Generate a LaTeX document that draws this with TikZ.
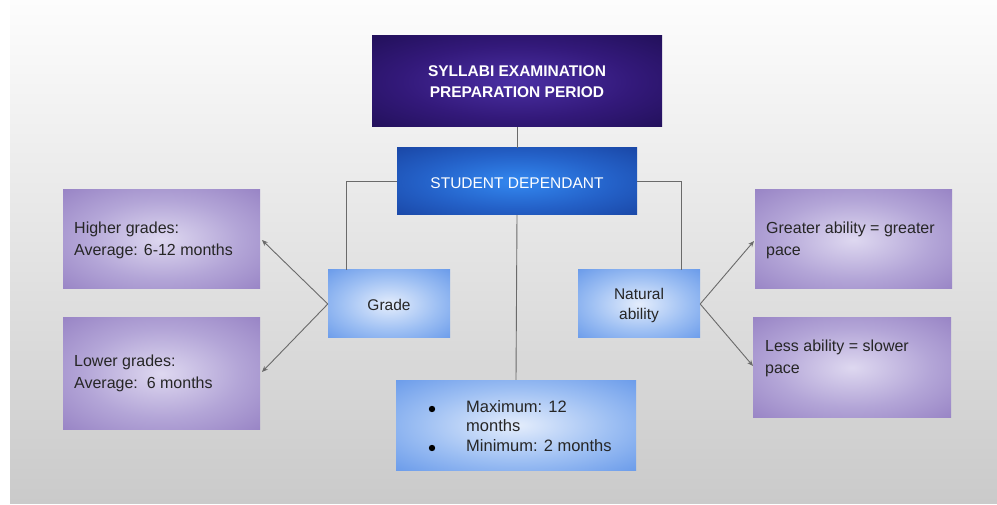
\documentclass[tikz,border=0pt]{standalone}
\usepackage{fontspec}
\setmainfont{Liberation Sans}
\usetikzlibrary{arrows.meta}
\definecolor{slidetop}{HTML}{FDFDFD}
\definecolor{slidebot}{HTML}{CACACA}
\definecolor{darkin}{HTML}{4B30A4}
\definecolor{darkmid}{HTML}{33197A}
\definecolor{darkout}{HTML}{22105A}
\definecolor{bluein}{HTML}{3388F0}
\definecolor{bluemid}{HTML}{2461C8}
\definecolor{blueout}{HTML}{1A47A6}
\definecolor{lbin}{HTML}{E4EDFC}
\definecolor{lbmid}{HTML}{9DBFF3}
\definecolor{lbout}{HTML}{6A9BEA}
\definecolor{ppin}{HTML}{DED8F0}
\definecolor{ppmid}{HTML}{B3A5D7}
\definecolor{ppout}{HTML}{9884C5}
\definecolor{txtc}{HTML}{262626}
\definecolor{linec}{HTML}{6A6A6A}
\pgfdeclareradialshading{darkshade}{\pgfpoint{0bp}{0bp}}{color(0bp)=(darkin); color(20bp)=(darkmid); color(36bp)=(darkout); color(50bp)=(darkout)}
\pgfdeclareradialshading{blueshade}{\pgfpoint{0bp}{0bp}}{color(0bp)=(bluein); color(20bp)=(bluemid); color(36bp)=(blueout); color(50bp)=(blueout)}
\pgfdeclareradialshading{lbshade}{\pgfpoint{0bp}{0bp}}{color(0bp)=(lbin); color(20bp)=(lbmid); color(36bp)=(lbout); color(50bp)=(lbout)}
\pgfdeclareradialshading{ppshade}{\pgfpoint{0bp}{0bp}}{color(0bp)=(ppin); color(20bp)=(ppmid); color(36bp)=(ppout); color(50bp)=(ppout)}
\tikzset{
  x=1pt, y=-1pt,
  boxbase/.style={draw=none, inner sep=0pt},
  darkbox/.style={boxbase, shading=darkshade},
  bluebox/.style={boxbase, shading=blueshade},
  lightbox/.style={boxbase, shading=lbshade},
  purplebox/.style={boxbase, shading=ppshade},
  bodytext/.style={inner sep=0pt, text=txtc, font=\fontsize{16}{22}\selectfont, align=left},
  conn/.style={draw=linec, line width=0.9pt},
  arr/.style={conn, -{Stealth[length=6pt,width=5pt]}}
}
\begin{document}
\begin{tikzpicture}
\useasboundingbox (0,0) rectangle (997,505);
\fill[white] (0,0) rectangle (997,505);
\shade[top color=slidetop, bottom color=slidebot] (10,0) rectangle (997,503);

% boxes
\node[darkbox, minimum width=290, minimum height=91] (top) at (517,81.5) {};
\node[text=white, font=\bfseries\fontsize{15.5}{21.5}\selectfont, align=center, inner sep=0pt] (toptxt) at (517,81.5) {SYLLABI EXAMINATION\\PREPARATION PERIOD};

\node[bluebox, minimum width=240, minimum height=67] (sd) at (517,181.5) {};
\node[text=white, font=\fontsize{15.5}{19}\selectfont, inner sep=0pt] (sdtxt) at (517,183) {STUDENT DEPENDANT};

\node[lightbox, minimum width=122, minimum height=68] (grade) at (389,304) {};
\node[text=txtc, font=\fontsize{15.5}{19}\selectfont, inner sep=0pt] (gradetxt) at (389,305) {Grade};

\node[lightbox, minimum width=122, minimum height=68] (nat) at (639,304) {};
\node[text=txtc, font=\fontsize{15.5}{20}\selectfont, align=center, inner sep=0pt] (nattxt) at (639,305) {Natural\\ability};

\node[purplebox, minimum width=197, minimum height=99] (hg) at (161.5,239.5) {};
\node[bodytext, anchor=west] (hgtxt) at (74,240) {Higher grades:\\Average: 6-12 months};

\node[purplebox, minimum width=197, minimum height=111] (lg) at (161.5,373.5) {};
\node[bodytext, anchor=west] (lgtxt) at (74,373) {Lower grades:\\Average:\ \ 6 months};

\node[purplebox, minimum width=197, minimum height=99] (ga) at (853.5,239.5) {};
\node[bodytext, anchor=west] (gatxt) at (766,240) {Greater ability = greater\\pace};

\node[purplebox, minimum width=198, minimum height=99] (la) at (852,367.5) {};
\node[bodytext, anchor=west] (latxt) at (765,358) {Less ability = slower\\pace};

\node[lightbox, minimum width=240, minimum height=90] (mm) at (516,425) {};
\node[bodytext, anchor=north west, font=\fontsize{16.5}{19.5}\selectfont] (mmtxt) at (466,400) {Maximum: 12\\months\\Minimum: 2 months};
\fill[black] (432,409) circle (3.2);
\fill[black] (432,448) circle (3.2);

% connectors
\draw[conn] (top.south) -- (sd.north);
\draw[conn] (sd.south) -- (mm.north);
\draw[conn] (sd.west) -- (346,181.5) -- (grade.north -| 346,0);
\draw[conn] (sd.east) -- (681,181.5) -- (nat.north -| 681,0);
\draw[arr] (grade.west) -- (262,240);
\draw[arr] (grade.west) -- (262,372);
\draw[arr] (nat.east) -- (754,241);
\draw[arr] (nat.east) -- (753,366);
\end{tikzpicture}
\end{document}
